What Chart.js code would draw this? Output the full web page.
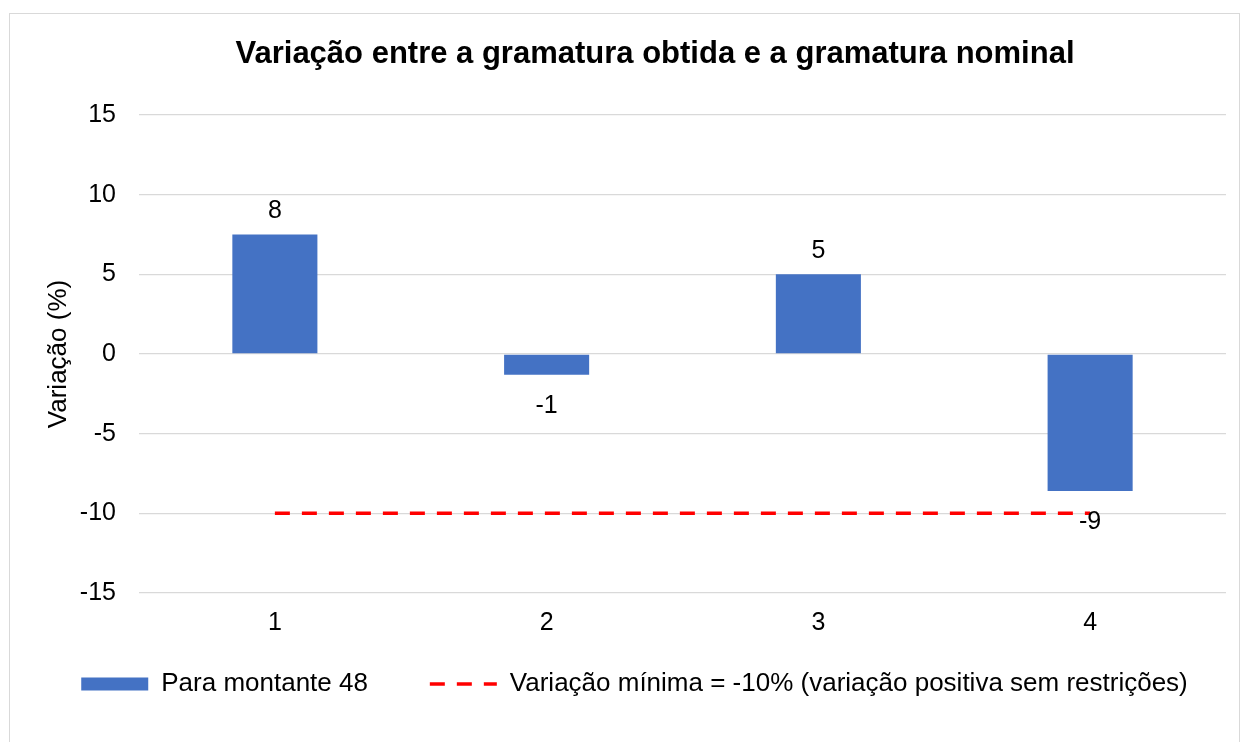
<!DOCTYPE html>
<html lang="pt">
<head>
<meta charset="utf-8">
<title>Variação entre a gramatura obtida e a gramatura nominal</title>
<script src="https://cdn.jsdelivr.net/npm/chart.js@4/dist/chart.umd.min.js"></script>
<style>
  html, body { margin: 0; padding: 0; background: #fff; }
  #wrap { position: relative; width: 1243px; height: 742px; overflow: hidden; }
  #frame { position: absolute; left: 9px; top: 13px; width: 1231px; height: 740px; border: 1px solid #d9d9d9; box-sizing: border-box; }
  canvas { position: absolute; left: 0; top: 0; }
</style>
</head>
<body>
<div id="wrap">
  <div id="frame"></div>
  <canvas id="chart" width="1243" height="742"></canvas>
</div>
<script>
// ---------- DATA ----------
const chartTitle = "Variação entre a gramatura obtida e a gramatura nominal";
const yAxisTitle = "Variação (%)";
const categories = ["1", "2", "3", "4"];
const variacao = [7.5, -1.3, 5.0, -8.6];
const limiteMinimo = [-10, -10, -10, -10];
const seriesNames = ["Para montante 48", "Variação mínima = -10% (variação positiva sem restrições)"];
const yMin = -15, yMax = 15, yStep = 5;

const FONT = "'Liberation Sans', Arial, sans-serif";

// title drawn like the Excel one (centred over the frame, not the plot)
const titlePlugin = {
  id: "excelTitle",
  afterDraw(chart) {
    const ctx = chart.ctx;
    ctx.save();
    ctx.font = "bold 31px " + FONT;
    ctx.fillStyle = "#000";
    ctx.textAlign = "center";
    ctx.textBaseline = "middle";
    ctx.fillText(chartTitle, 655, 54);
    ctx.restore();
  },
};

// value labels outside the end of each bar
const valueLabels = {
  id: "valueLabels",
  afterDatasetsDraw(chart) {
    const meta = chart.getDatasetMeta(0);
    const ctx = chart.ctx;
    ctx.save();
    ctx.font = "25px " + FONT;
    ctx.fillStyle = "#000";
    ctx.textAlign = "center";
    ctx.textBaseline = "middle";
    meta.data.forEach((bar, i) => {
      const v = variacao[i];
      const y = v >= 0 ? bar.y - 23 : bar.y + 31;
      ctx.fillText(String(Math.round(v)), bar.x, y);
    });
    ctx.restore();
  },
};

new Chart(document.getElementById("chart").getContext("2d"), {
  type: "bar",
  data: {
    labels: categories,
    datasets: [
      {
        label: seriesNames[0],
        data: variacao,
        backgroundColor: "#4472C4",
        borderWidth: 0,
        categoryPercentage: 1,
        barPercentage: 0.313,
        order: 1,
      },
      {
        type: "line",
        label: seriesNames[1],
        data: limiteMinimo,
        borderColor: "#FF0000",
        backgroundColor: "#FF0000",
        borderWidth: 3.5,
        borderDash: [15, 12],
        pointRadius: 0,
        fill: false,
        order: 0,
      },
    ],
  },
  options: {
    responsive: false,
    animation: false,
    layout: { padding: { left: 43, right: 17, top: 115, bottom: 35 } },
    plugins: {
      title: { display: false },
      tooltip: { enabled: false },
      legend: {
        position: "bottom",
        labels: {
          color: "#000",
          font: { family: FONT, size: 26 },
          usePointStyle: true,
          pointStyleWidth: 67,
          boxHeight: 13,
          padding: 33,
          sort: (a, b) => a.datasetIndex - b.datasetIndex,
          generateLabels(chart) {
            const items = Chart.defaults.plugins.legend.labels.generateLabels(chart);
            items.forEach((it) => {
              const ds = chart.data.datasets[it.datasetIndex];
              if (it.datasetIndex === 0) {
                it.pointStyle = "rect";
                it.lineWidth = 0;
                it.text += "    ";
              } else {
                it.pointStyle = "line";
                it.strokeStyle = ds.borderColor;
                it.lineWidth = ds.borderWidth;
                it.lineDash = ds.borderDash;
              }
            });
            return items;
          },
        },
      },
    },
    scales: {
      x: {
        grid: { display: false, drawTicks: false },
        border: { display: false },
        ticks: { color: "#000", font: { family: FONT, size: 25 }, padding: 15 },
        afterFit(scale) { scale.height = 45; },
      },
      y: {
        min: yMin,
        max: yMax,
        grid: { color: "#d9d9d9", lineWidth: 1.3, drawTicks: false },
        border: { display: false },
        ticks: { stepSize: yStep, color: "#000", font: { family: FONT, size: 25 }, padding: 23 },
        title: {
          display: true,
          text: yAxisTitle,
          color: "#000",
          font: { family: FONT, size: 26 },
          padding: { top: 0, bottom: 7 },
        },
        afterFit(scale) { scale.width = 96; },
      },
    },
  },
  plugins: [titlePlugin, valueLabels],
});
</script>
</body>
</html>
